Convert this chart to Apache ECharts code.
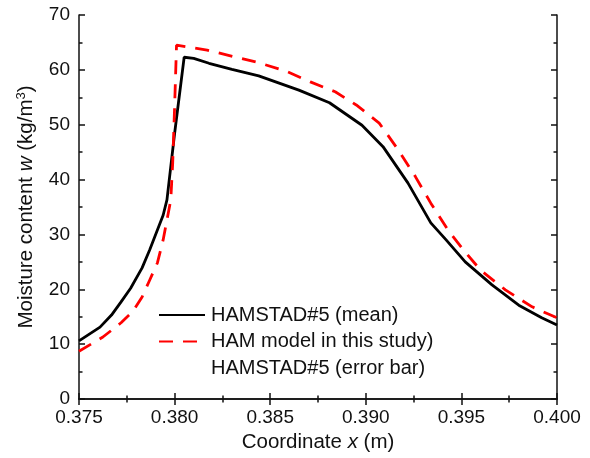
<!DOCTYPE html>
<html>
<head>
<meta charset="utf-8">
<script src="https://cdn.jsdelivr.net/npm/echarts@6/dist/echarts.min.js"></script>
<style>
  html, body { margin: 0; padding: 0; background: #fff; }
  #main { width: 590px; height: 458px; }
</style>
</head>
<body>
<div id="main"></div>
<script>
// HAMSTAD#5 mean profile
var xMean = [0.375, 0.3761, 0.3767, 0.3772, 0.3777, 0.3783, 0.3787, 0.3791, 0.3794, 0.3796, 0.3800, 0.3805,
  0.3810, 0.3818, 0.3830, 0.3844, 0.3865, 0.3881, 0.3898, 0.3909, 0.3922, 0.3934, 0.3942, 0.3952,
  0.3966, 0.3980, 0.3992, 0.4000]
var yMean = [10.6, 13.1, 15.3, 17.7, 20.2, 23.9, 27.2, 30.8, 33.5, 36.3, 48.4, 62.3,
  62.1, 61.2, 60.1, 58.9, 56.3, 54.0, 49.9, 46.0, 39.4, 32.1, 29.0, 25.0,
  20.8, 17.1, 14.8, 13.5]
// HAM model in this study
var xModel = [0.375, 0.37625, 0.3772, 0.3778, 0.3783, 0.3787, 0.3791, 0.3794, 0.3796, 0.3798, 0.3799,
  0.3800, 0.3801, 0.3817, 0.3844, 0.3858, 0.3871, 0.3884, 0.3895, 0.3907, 0.3917, 0.3926, 0.3934,
  0.3943, 0.3951, 0.3960, 0.3973, 0.3987, 0.4000]
var yModel = [8.7, 11.3, 13.9, 15.9, 18.6, 21.7, 24.8, 29.0, 32.6, 36.3, 43.0,
  53.2, 64.5, 63.6, 61.3, 59.8, 57.8, 56.0, 53.6, 50.3, 45.4, 40.5, 35.7,
  30.8, 27.2, 23.5, 19.9, 16.8, 14.8]
var legendNames = ['HAMSTAD#5 (mean)', 'HAM model in this study)', 'HAMSTAD#5 (error bar)']

function pairs (xs, ys) {
  return xs.map(function (x, i) { return [x, ys[i]] })
}

var font = 'Liberation Sans, Arial, sans-serif'
var ink = '#111'

var axisCommon = {
  axisLine: { lineStyle: { color: ink, width: 1.5 } },
  axisTick: { inside: true, length: 6, lineStyle: { color: ink, width: 1.5 } },
  minorTick: { show: true, splitNumber: 2, length: 3.5, lineStyle: { color: ink, width: 1.5 } },
  splitLine: { show: false }
}

var option = {
  animation: false,
  backgroundColor: '#fff',
  grid: { left: 79, right: 33, top: 15, bottom: 59 },
  legend: {
    left: 158,
    top: 305,
    padding: 0,
    orient: 'vertical',
    itemWidth: 46,
    itemHeight: 14,
    itemGap: 6.5,
    itemStyle: { opacity: 0 },
    textStyle: { fontFamily: font, fontSize: 20, lineHeight: 20, color: ink, padding: [0, 0, 0, 1] },
    data: [
      { name: legendNames[0] },
      { name: legendNames[1] },
      { name: legendNames[2], lineStyle: { opacity: 0 } }
    ]
  },
  xAxis: [
    Object.assign({
      type: 'value',
      min: 0.375,
      max: 0.400,
      interval: 0.005,
      name: '{n|Coordinate }{i|x}{n| (m)}',
      nameLocation: 'middle',
      nameGap: 33,
      nameTextStyle: {
        rich: {
          n: { fontFamily: font, fontSize: 20.5, color: ink },
          i: { fontFamily: font, fontSize: 20.5, color: ink, fontStyle: 'italic' }
        }
      },
      axisLabel: {
        fontFamily: font, fontSize: 19, color: ink, margin: 9,
        formatter: function (v) { return v.toFixed(3) }
      }
    }, axisCommon),
    Object.assign({
      type: 'value', position: 'top', min: 0.375, max: 0.400, interval: 0.005,
      axisLabel: { show: false }
    }, axisCommon)
  ],
  yAxis: [
    Object.assign({
      type: 'value',
      min: 0,
      max: 70,
      interval: 10,
      name: '{n|Moisture content }{i|w}{n| (kg/m}{s|3}{n|)}',
      nameLocation: 'middle',
      nameGap: 42,
      nameTextStyle: {
        rich: {
          n: { fontFamily: font, fontSize: 20.5, color: ink },
          i: { fontFamily: font, fontSize: 20.5, color: ink, fontStyle: 'italic' },
          s: { fontFamily: font, fontSize: 13, color: ink, verticalAlign: 'top', padding: [0, 0, 9, 0] }
        }
      },
      axisLabel: { fontFamily: font, fontSize: 19, color: ink, margin: 9 }
    }, axisCommon),
    Object.assign({
      type: 'value', position: 'right', min: 0, max: 70, interval: 10,
      axisLabel: { show: false }
    }, axisCommon)
  ],
  series: [
    {
      name: legendNames[0],
      type: 'line',
      symbol: 'none',
      data: pairs(xMean, yMean),
      lineStyle: { color: '#000', width: 2.8 },
      itemStyle: { color: '#000' }
    },
    {
      name: legendNames[1],
      type: 'line',
      symbol: 'none',
      data: pairs(xModel, yModel),
      lineStyle: { color: '#ff0000', width: 2.8, type: [14, 10] },
      itemStyle: { color: '#ff0000' }
    },
    {
      name: legendNames[2],
      type: 'line',
      symbol: 'none',
      data: [],
      lineStyle: { color: 'rgba(0,0,0,0)' },
      itemStyle: { color: 'rgba(0,0,0,0)' }
    }
  ]
}

var myChart = echarts.init(document.getElementById('main'))
myChart.setOption(option)
</script>
</body>
</html>
